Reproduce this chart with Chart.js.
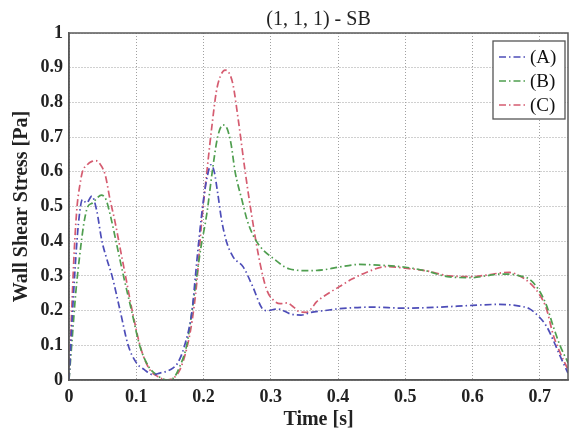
<!DOCTYPE html>
<html>
<head>
<meta charset="utf-8">
<script src="https://cdn.jsdelivr.net/npm/chart.js@4/dist/chart.umd.min.js"></script>
<style>
html,body{margin:0;padding:0;background:#fff;}
#wrap{width:570px;height:436px;position:relative;}
</style>
</head>
<body>
<div id="wrap"><canvas id="c" width="570" height="436"></canvas></div>
<script>
const titleText = "(1, 1, 1) - SB";
const xLabel = "Time [s]";
const yLabel = "Wall Shear Stress [Pa]";
const seriesNames = ["(A)", "(B)", "(C)"];
const xTicks = [0, 0.1, 0.2, 0.3, 0.4, 0.5, 0.6, 0.7];
const yTicks = [0, 0.1, 0.2, 0.3, 0.4, 0.5, 0.6, 0.7, 0.8, 0.9, 1];

const timeA = [0, 0.004, 0.009, 0.014, 0.02, 0.026, 0.034, 0.041, 0.049, 0.056, 0.064, 0.076, 0.088, 0.1, 0.112, 0.125, 0.135, 0.145, 0.155, 0.162, 0.172, 0.183, 0.188, 0.193, 0.2, 0.206, 0.211, 0.216, 0.221, 0.227, 0.234, 0.244, 0.259, 0.273, 0.287, 0.295, 0.31, 0.33, 0.345, 0.36, 0.38, 0.4, 0.45, 0.5, 0.55, 0.6, 0.64, 0.67, 0.685, 0.7, 0.71, 0.72, 0.73, 0.742];
const valuesA = [0.0, 0.15, 0.32, 0.45, 0.52, 0.51, 0.53, 0.49, 0.40, 0.35, 0.30, 0.20, 0.10, 0.05, 0.03, 0.015, 0.02, 0.025, 0.035, 0.05, 0.10, 0.20, 0.30, 0.40, 0.52, 0.59, 0.62, 0.6, 0.54, 0.46, 0.40, 0.355, 0.326, 0.27, 0.207, 0.20, 0.205, 0.19, 0.187, 0.195, 0.2, 0.205, 0.21, 0.207, 0.21, 0.215, 0.218, 0.213, 0.205, 0.18, 0.155, 0.115, 0.07, 0.02];

const timeB = [0, 0.004, 0.01, 0.016, 0.022, 0.028, 0.035, 0.042, 0.048, 0.055, 0.062, 0.071, 0.081, 0.093, 0.105, 0.118, 0.13, 0.145, 0.155, 0.165, 0.175, 0.183, 0.19, 0.196, 0.205, 0.213, 0.221, 0.229, 0.235, 0.241, 0.247, 0.257, 0.265, 0.273, 0.284, 0.304, 0.328, 0.358, 0.38, 0.403, 0.432, 0.46, 0.5, 0.53, 0.566, 0.6, 0.62, 0.64, 0.655, 0.67, 0.685, 0.7, 0.71, 0.72, 0.73, 0.742];
const valuesB = [0.0, 0.1, 0.25, 0.36, 0.45, 0.5, 0.51, 0.525, 0.533, 0.52, 0.47, 0.39, 0.30, 0.20, 0.10, 0.04, 0.015, 0.0, 0.005, 0.04, 0.10, 0.2, 0.3, 0.38, 0.48, 0.6, 0.7, 0.735, 0.725, 0.68, 0.6, 0.52, 0.46, 0.42, 0.385, 0.35, 0.32, 0.315, 0.318, 0.326, 0.333, 0.331, 0.325, 0.315, 0.297, 0.295, 0.3, 0.305, 0.305, 0.30, 0.29, 0.255, 0.215, 0.155, 0.1, 0.05];

const timeC = [0, 0.004, 0.008, 0.012, 0.016, 0.02, 0.027, 0.034, 0.04, 0.047, 0.054, 0.061, 0.068, 0.076, 0.084, 0.095, 0.107, 0.12, 0.132, 0.145, 0.155, 0.165, 0.175, 0.183, 0.19, 0.197, 0.205, 0.213, 0.219, 0.225, 0.232, 0.238, 0.244, 0.251, 0.262, 0.272, 0.284, 0.294, 0.304, 0.314, 0.324, 0.334, 0.343, 0.353, 0.36, 0.368, 0.378, 0.39, 0.403, 0.42, 0.442, 0.472, 0.5, 0.53, 0.566, 0.6, 0.62, 0.64, 0.655, 0.67, 0.685, 0.7, 0.71, 0.72, 0.73, 0.742];
const valuesC = [0.0, 0.2, 0.38, 0.5, 0.56, 0.6, 0.62, 0.63, 0.632, 0.62, 0.59, 0.52, 0.46, 0.38, 0.30, 0.19, 0.09, 0.03, 0.01, 0.0, 0.005, 0.03, 0.09, 0.17, 0.28, 0.45, 0.6, 0.74, 0.83, 0.875, 0.893, 0.885, 0.85, 0.76, 0.6, 0.47, 0.337, 0.26, 0.23, 0.22, 0.222, 0.21, 0.196, 0.195, 0.205, 0.225, 0.24, 0.255, 0.27, 0.29, 0.31, 0.327, 0.322, 0.315, 0.3, 0.298, 0.302, 0.308, 0.31, 0.3, 0.28, 0.245, 0.205, 0.13, 0.08, 0.03];

const colors = ["#4d4db8", "#4f9e4f", "#d55c70"];
const FONT = "'Liberation Serif', 'Times New Roman', serif";
const DASH = [7, 3, 1.5, 3];

function pts(t, v) { return t.map((x, i) => ({x: x, y: v[i]})); }

const datasets = [[timeA, valuesA], [timeB, valuesB], [timeC, valuesC]].map((d, i) => ({
  label: seriesNames[i],
  data: pts(d[0], d[1]),
  borderColor: colors[i],
  backgroundColor: colors[i],
  borderWidth: 1.7,
  borderDash: DASH,
  pointRadius: 0,
  fill: false,
  cubicInterpolationMode: 'monotone'
}));

const boxAndLegend = {
  id: 'boxAndLegend',
  afterDatasetsDraw(chart) {
    const {ctx, chartArea: a} = chart;
    ctx.save();
    ctx.strokeStyle = '#5a5a5a';
    ctx.lineWidth = 1.5;
    ctx.strokeRect(a.left, a.top, a.right - a.left, a.bottom - a.top);
    // legend
    const lx = 493, ly = 41, lw = 72, lh = 78;
    ctx.fillStyle = '#fff';
    ctx.fillRect(lx, ly, lw, lh);
    ctx.strokeStyle = '#555';
    ctx.lineWidth = 1.3;
    ctx.strokeRect(lx, ly, lw, lh);
    ctx.font = "19px " + FONT;
    ctx.textBaseline = 'middle';
    ctx.textAlign = 'left';
    chart.data.datasets.forEach((ds, i) => {
      const y = ly + 16 + i * 24;
      ctx.strokeStyle = ds.borderColor;
      ctx.lineWidth = 1.7;
      ctx.setLineDash(DASH);
      ctx.beginPath();
      ctx.moveTo(lx + 6, y);
      ctx.lineTo(lx + 34, y);
      ctx.stroke();
      ctx.setLineDash([]);
      ctx.fillStyle = '#111';
      ctx.fillText(ds.label, lx + 37, y + 1);
    });
    ctx.restore();
  }
};

new Chart(document.getElementById('c'), {
  type: 'line',
  data: {datasets},
  plugins: [boxAndLegend],
  options: {
    responsive: false,
    animation: false,
    layout: {padding: {left: 0, right: 2, top: 0, bottom: 0}},
    plugins: {
      legend: {display: false},
      tooltip: {enabled: false},
      title: {
        display: true,
        fullSize: false,
        text: titleText,
        color: '#222',
        font: {family: FONT, size: 20, weight: 'normal', lineHeight: 1.2},
        padding: {top: 8, bottom: 1}
      }
    },
    scales: {
      x: {
        type: 'linear',
        min: 0,
        max: 0.742,
        afterBuildTicks(scale) { scale.ticks = xTicks.map(v => ({value: v})); },
        afterFit(scale) { scale.height = 56; },
        ticks: {
          color: '#222',
          font: {family: FONT, size: 18, weight: 'bold'},
          padding: 7,
          maxRotation: 0,
          callback: v => String(v)
        },
        grid: {color: '#a0a0a0', lineWidth: 1, drawTicks: false},
        border: {color: '#5a5a5a', width: 1.5, dash: [1, 2]},
        title: {
          display: true,
          text: xLabel,
          color: '#222',
          font: {family: FONT, size: 20, weight: 'bold', lineHeight: 1.2},
          padding: {top: 0, bottom: 4}
        }
      },
      y: {
        type: 'linear',
        min: 0,
        max: 1,
        afterBuildTicks(scale) { scale.ticks = yTicks.map(v => ({value: v})); },
        afterFit(scale) { scale.width = 69; },
        ticks: {
          color: '#222',
          font: {family: FONT, size: 18, weight: 'bold'},
          padding: 6,
          callback: v => String(v)
        },
        grid: {color: '#a0a0a0', lineWidth: 1, drawTicks: false},
        border: {color: '#5a5a5a', width: 1.5, dash: [1, 2]},
        title: {
          display: true,
          text: yLabel,
          color: '#222',
          font: {family: FONT, size: 20, weight: 'bold', lineHeight: 1.2},
          padding: {top: 10, bottom: 0}
        }
      }
    }
  }
});
</script>
</body>
</html>
